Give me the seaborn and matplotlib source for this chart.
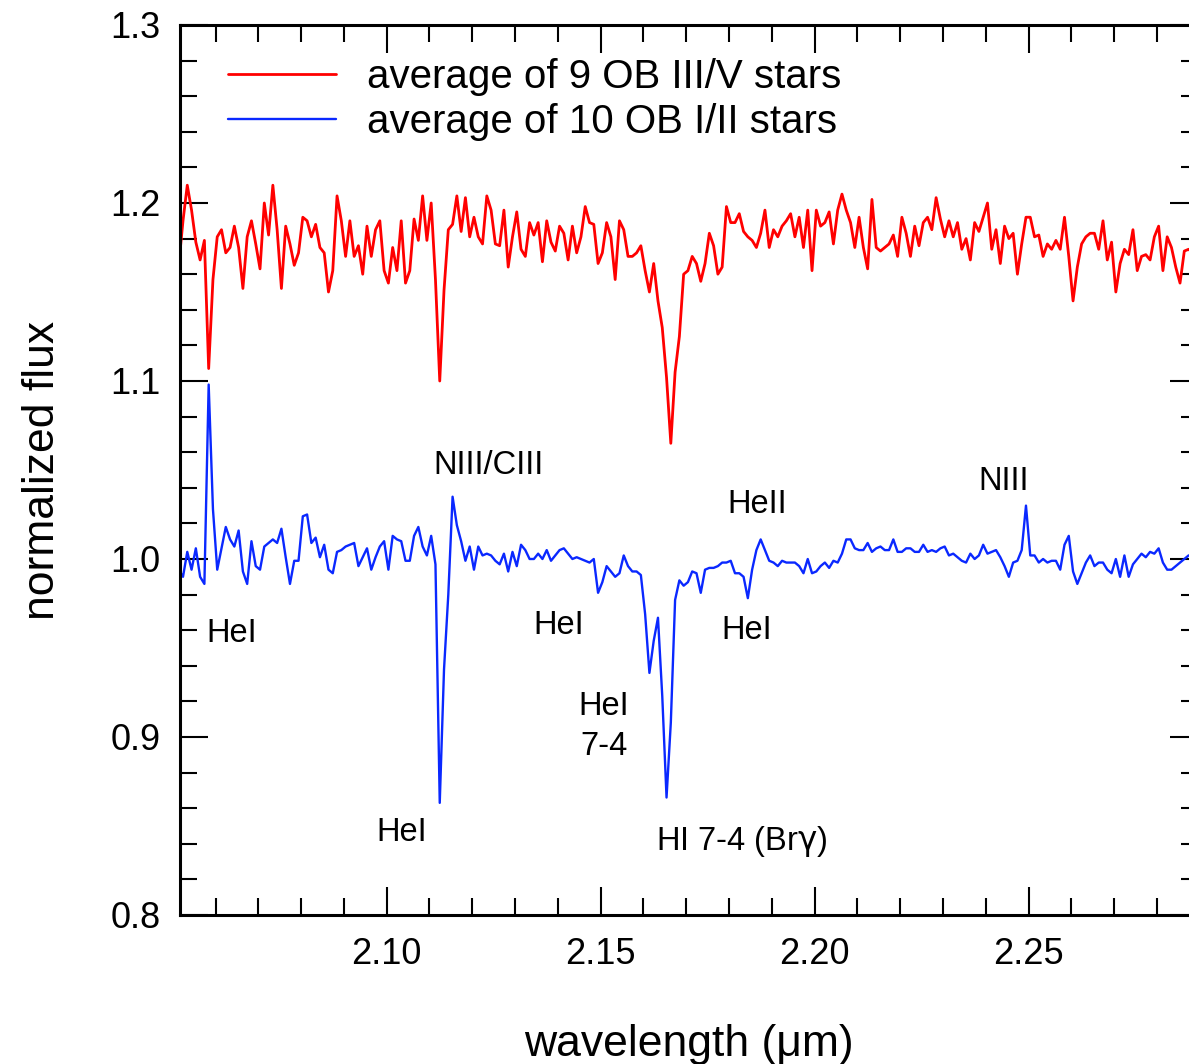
import numpy as np
import pandas as pd
import matplotlib
matplotlib.use("Agg")
import matplotlib.pyplot as plt
from matplotlib.ticker import MultipleLocator, FormatStrFormatter
import seaborn as sns

# ---------------- data ----------------
wl_start = 2.0514   # micron, first sample
wl_step = 0.001     # micron, sampling step

series_labels = ["average of 9 OB III/V stars", "average of 10 OB I/II stars"]

flux_red = [
    1.165, 1.190, 1.210, 1.196, 1.178, 1.168, 1.179, 1.107, 1.157, 1.181,
    1.185, 1.172, 1.175, 1.187, 1.175, 1.152, 1.181, 1.190, 1.177, 1.163,
    1.200, 1.182, 1.210, 1.185, 1.152, 1.187, 1.177, 1.165, 1.172, 1.192,
    1.190, 1.181, 1.188, 1.175, 1.172, 1.150, 1.162, 1.204, 1.190, 1.170,
    1.190, 1.170, 1.176, 1.160, 1.187, 1.170, 1.185, 1.190, 1.162, 1.155,
    1.175, 1.162, 1.190, 1.155, 1.162, 1.191, 1.179, 1.204, 1.179, 1.200,
    1.157, 1.100, 1.151, 1.185, 1.188, 1.204, 1.184, 1.203, 1.181, 1.192,
    1.181, 1.177, 1.204, 1.196, 1.177, 1.176, 1.196, 1.164, 1.181, 1.195,
    1.174, 1.170, 1.189, 1.182, 1.189, 1.167, 1.190, 1.178, 1.173, 1.187,
    1.183, 1.168, 1.187, 1.172, 1.181, 1.198, 1.189, 1.188, 1.166, 1.172,
    1.189, 1.181, 1.157, 1.190, 1.185, 1.170, 1.170, 1.172, 1.176, 1.162,
    1.150, 1.166, 1.145, 1.130, 1.102, 1.065, 1.105, 1.125, 1.160, 1.162,
    1.170, 1.166, 1.156, 1.166, 1.183, 1.176, 1.160, 1.164, 1.198, 1.189,
    1.189, 1.194, 1.184, 1.181, 1.179, 1.175, 1.183, 1.196, 1.175, 1.185,
    1.181, 1.187, 1.190, 1.194, 1.181, 1.192, 1.175, 1.196, 1.162, 1.196,
    1.187, 1.189, 1.195, 1.177, 1.196, 1.205, 1.196, 1.189, 1.175, 1.192,
    1.175, 1.163, 1.202, 1.175, 1.173, 1.175, 1.177, 1.182, 1.170, 1.192,
    1.183, 1.170, 1.187, 1.176, 1.189, 1.192, 1.185, 1.203, 1.191, 1.181,
    1.190, 1.181, 1.189, 1.174, 1.180, 1.168, 1.189, 1.184, 1.192, 1.200,
    1.174, 1.185, 1.166, 1.187, 1.180, 1.183, 1.160, 1.177, 1.192, 1.192,
    1.181, 1.182, 1.170, 1.177, 1.174, 1.179, 1.174, 1.192, 1.170, 1.145,
    1.164, 1.177, 1.181, 1.183, 1.183, 1.174, 1.190, 1.168, 1.178, 1.150,
    1.166, 1.174, 1.171, 1.185, 1.162, 1.170, 1.171, 1.168, 1.181, 1.187,
    1.162, 1.181, 1.175, 1.164, 1.155, 1.173, 1.174, 1.172,
]

flux_blue = [
    0.994, 0.990, 1.004, 0.994, 1.006, 0.990, 0.986, 1.098, 1.028, 0.994,
    1.006, 1.018, 1.011, 1.007, 1.016, 0.993, 0.986, 1.010, 0.996, 0.994,
    1.007, 1.009, 1.011, 1.009, 1.017, 1.001, 0.986, 0.999, 0.999, 1.024,
    1.025, 1.009, 1.012, 1.001, 1.008, 0.994, 0.992, 1.004, 1.005, 1.007,
    1.008, 1.009, 0.996, 1.001, 1.006, 0.994, 1.001, 1.007, 1.010, 0.994,
    1.013, 1.011, 1.010, 0.999, 0.999, 1.013, 1.018, 1.007, 1.002, 1.013,
    0.997, 0.863, 0.938, 0.980, 1.035, 1.019, 1.010, 0.999, 1.007, 0.994,
    1.007, 1.002, 1.003, 1.002, 0.999, 0.997, 1.003, 0.993, 1.004, 0.996,
    1.008, 1.005, 1.000, 1.000, 1.003, 1.000, 1.005, 0.999, 1.002, 1.005,
    1.006, 1.003, 1.000, 1.001, 1.000, 0.999, 0.998, 1.000, 0.981, 0.987,
    0.996, 0.993, 0.990, 0.992, 1.002, 0.996, 0.993, 0.993, 0.991, 0.969,
    0.936, 0.954, 0.967, 0.923, 0.866, 0.908, 0.977, 0.988, 0.985, 0.987,
    0.993, 0.992, 0.981, 0.994, 0.995, 0.995, 0.996, 0.998, 0.998, 0.999,
    0.992, 0.992, 0.990, 0.978, 0.994, 1.005, 1.011, 1.005, 0.999, 0.998,
    0.996, 0.999, 0.998, 0.998, 0.998, 0.996, 0.992, 1.000, 0.992, 0.993,
    0.996, 0.998, 0.995, 0.999, 0.998, 1.003, 1.011, 1.011, 1.006, 1.005,
    1.005, 1.009, 1.004, 1.006, 1.007, 1.005, 1.005, 1.011, 1.004, 1.004,
    1.006, 1.006, 1.004, 1.004, 1.008, 1.004, 1.005, 1.004, 1.006, 1.007,
    1.002, 1.003, 1.001, 0.999, 0.998, 1.003, 1.000, 1.002, 1.008, 1.003,
    1.004, 1.005, 1.001, 0.996, 0.990, 0.998, 0.999, 1.005, 1.030, 1.002,
    1.002, 0.998, 1.000, 0.998, 0.999, 0.999, 0.994, 1.008, 1.013, 0.993,
    0.986, 0.992, 0.998, 1.002, 0.996, 0.998, 0.998, 0.994, 0.992, 1.000,
    0.990, 1.002, 0.990, 0.997, 1.000, 1.003, 1.001, 1.004, 1.003, 1.006,
    0.998, 0.994, 0.994, 0.996, 0.998, 1.000, 1.002, 1.002,
]

# line identifications: text, wavelength (centre), flux (baseline)
line_labels = ["HeI", "NIII/CIII", "HeI", "HeII", "HeI", "HeI", "7-4", "HeI",
               "HI 7-4 (Br$\\gamma$)", "NIII"]
label_wl = [2.0637, 2.1239, 2.1403, 2.1867, 2.1841, 2.1508, 2.1508, 2.1035,
            2.1831, 2.2441]
label_flux = [0.9536, 1.0480, 0.9581, 1.0256, 0.9548, 0.9124, 0.8899, 0.8413,
              0.8365, 1.0390]

x_ticks = [2.10, 2.15, 2.20, 2.25]
y_ticks = [0.8, 0.9, 1.0, 1.1, 1.2, 1.3]

# ---------------- figure ----------------
wavelength = np.round(wl_start + wl_step * np.arange(len(flux_red)), 4)
df = pd.DataFrame({"wavelength": wavelength, "red": flux_red, "blue": flux_blue})

sns.set_style("ticks")
plt.rcParams["font.family"] = ["Liberation Sans", "DejaVu Sans"]
plt.rcParams["mathtext.fontset"] = "custom"
plt.rcParams["mathtext.rm"] = "DejaVu Sans"
plt.rcParams["mathtext.it"] = "DejaVu Sans"
plt.rcParams["mathtext.sf"] = "DejaVu Sans"
plt.rcParams["mathtext.bf"] = "DejaVu Sans:bold"
for key in ["text.color", "axes.labelcolor", "xtick.color", "ytick.color",
            "axes.edgecolor"]:
    plt.rcParams[key] = "black"

W, H = 1189, 1064
fig = plt.figure(figsize=(W / 100, H / 100), dpi=100)
ax = fig.add_axes([180 / W, 149 / H, 1018 / W, 890 / H])

sns.lineplot(data=df, x="wavelength", y="red", color="#ff0000", lw=2.0,
             label=series_labels[0], ax=ax, estimator=None)
sns.lineplot(data=df, x="wavelength", y="blue", color="#0a28ff", lw=1.7,
             label=series_labels[1], ax=ax, estimator=None)

ax.set_xlim(2.0517, 2.2896)
ax.set_ylim(0.8, 1.3)
ax.set_xticks(x_ticks)
ax.set_yticks(y_ticks)
ax.xaxis.set_minor_locator(MultipleLocator(0.01))
ax.yaxis.set_minor_locator(MultipleLocator(0.02))
ax.xaxis.set_major_formatter(FormatStrFormatter("%.2f"))
ax.yaxis.set_major_formatter(FormatStrFormatter("%.1f"))
ax.tick_params(which="both", direction="in", top=True, right=True,
               width=1.5, color="black", labelcolor="black", labelsize=26)
ax.tick_params(axis="x", pad=16)
ax.tick_params(axis="y", pad=14)
ax.tick_params(which="major", length=20)
ax.tick_params(which="minor", length=12)
for s in ax.spines.values():
    s.set_linewidth(2.2)
    s.set_color("black")

ax.set_xlabel("wavelength (\u03bcm)", fontsize=32, labelpad=37, color="black")
ax.set_ylabel("normalized flux", fontsize=32, labelpad=34, color="black")

for t, xw, yf in zip(line_labels, label_wl, label_flux):
    ax.text(xw, yf, t, fontsize=23.5, ha="center", va="baseline", color="black")

leg = ax.legend(loc="upper left", bbox_to_anchor=(0.031, 0.981), frameon=False,
                fontsize=29, handlelength=2.68, handletextpad=0.77,
                labelspacing=0.18, borderaxespad=0.0)
for txt in leg.get_texts():
    txt.set_color("black")

fig.savefig("out.png", dpi=100)
